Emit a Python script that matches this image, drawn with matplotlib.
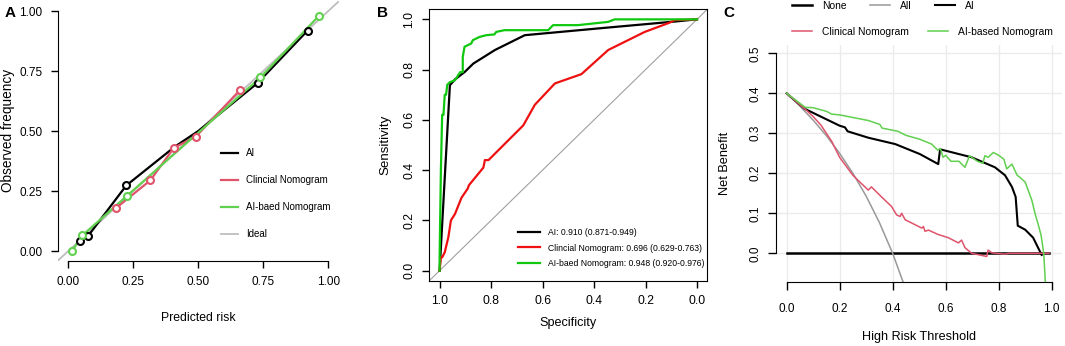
import numpy as np
import matplotlib
matplotlib.use('Agg')
import matplotlib.pyplot as plt

plt.rcParams['font.family'] = ['Liberation Sans', 'DejaVu Sans']

# ---- panel A: calibration curves
cal_ticks = [0.0, 0.25, 0.5, 0.75, 1.0]
ai_pt_x = [0.045, 0.077, 0.223, 0.728, 0.920]
ai_pt_y = [0.042, 0.064, 0.273, 0.700, 0.918]
ai_ln_x = [0.045, 0.077, 0.223, 0.41, 0.50, 0.728, 0.920]
ai_ln_y = [0.042, 0.064, 0.273, 0.435, 0.50, 0.700, 0.918]
cn_pt_x = [0.185, 0.316, 0.406, 0.490, 0.660]
cn_pt_y = [0.180, 0.295, 0.430, 0.476, 0.670]
ab_pt_x = [0.015, 0.054, 0.226, 0.739, 0.964]
ab_pt_y = [0.000, 0.065, 0.230, 0.723, 0.980]
cal_labels = ['AI', 'Clincial Nomogram', 'AI-baed Nomogram', 'Ideal']

# ---- panel B: ROC curves (specificity, sensitivity)
roc_ai_spec = [1.0, 0.96, 0.94, 0.902, 0.869, 0.785, 0.669, 0.35, 0.10, 0.0]
roc_ai_sens = [0.0, 0.738, 0.761, 0.791, 0.824, 0.878, 0.937, 0.967, 0.99, 1.0]
roc_cn_spec = [1.0, 0.995, 0.99, 0.98, 0.966, 0.956, 0.94, 0.915, 0.891, 0.886,
               0.83, 0.824, 0.81, 0.675, 0.63, 0.552, 0.449, 0.345, 0.203, 0.106,
               0.087, 0.0]
roc_cn_sens = [0.0, 0.053, 0.053, 0.073, 0.133, 0.20, 0.226, 0.29, 0.326, 0.34,
               0.41, 0.44, 0.44, 0.578, 0.66, 0.745, 0.782, 0.878, 0.95, 0.987,
               0.997, 1.0]
roc_ab_spec = [1.0, 1.0, 0.995, 0.99, 0.985, 0.98, 0.975, 0.97, 0.96, 0.94, 0.93,
               0.92, 0.91, 0.91, 0.903, 0.877, 0.871, 0.845, 0.819, 0.787, 0.78,
               0.748, 0.578, 0.559, 0.462, 0.345, 0.32, 0.0]
roc_ab_sens = [0.0, 0.05, 0.40, 0.62, 0.62, 0.70, 0.70, 0.74, 0.75, 0.758, 0.774,
               0.79, 0.79, 0.851, 0.891, 0.904, 0.917, 0.93, 0.937, 0.94, 0.95,
               0.957, 0.957, 0.977, 0.977, 0.99, 1.0, 1.0]
roc_labels = ['AI: 0.910 (0.871-0.949)',
              'Clincial Nomogram: 0.696 (0.629-0.763)',
              'AI-baed Nomogram: 0.948 (0.920-0.976)']

# ---- panel C: decision curves
none_t = [0.0, 0.99]
none_nb = [0.0, 0.0]
all_t = [0.0, 0.05, 0.10, 0.15, 0.20, 0.25, 0.30, 0.35, 0.40, 0.45]
all_nb = [0.40, 0.368, 0.333, 0.294, 0.25, 0.20, 0.143, 0.077, 0.0, -0.091]
dca_ai_t = [0.0, 0.069, 0.20, 0.22, 0.23, 0.308, 0.41, 0.503, 0.572, 0.579,
            0.698, 0.786, 0.824, 0.85, 0.864, 0.872, 0.90, 0.93, 0.962]
dca_ai_nb = [0.40, 0.361, 0.319, 0.315, 0.305, 0.289, 0.273, 0.248, 0.223, 0.26,
             0.24, 0.215, 0.195, 0.166, 0.141, 0.069, 0.059, 0.039, -0.004]
dca_cn_t = [0.0, 0.069, 0.10, 0.13, 0.17, 0.20, 0.25, 0.308, 0.32, 0.358, 0.396,
            0.415, 0.428, 0.434, 0.447, 0.51, 0.516, 0.522, 0.535, 0.572, 0.61,
            0.648, 0.66, 0.673, 0.698, 0.72, 0.748, 0.755, 0.76, 0.775, 0.824,
            0.84, 0.99]
dca_cn_nb = [0.40, 0.361, 0.342, 0.32, 0.28, 0.24, 0.195, 0.158, 0.166, 0.141,
             0.117, 0.096, 0.092, 0.10, 0.084, 0.063, 0.067, 0.055, 0.058, 0.047,
             0.039, 0.026, 0.033, 0.014, 0.0, -0.003, -0.007, -0.008, 0.008,
             0.001, -0.002, 0.0, 0.0]
dca_ab_t = [0.0, 0.05, 0.07, 0.10, 0.15, 0.17, 0.20, 0.308, 0.352, 0.36, 0.42,
            0.45, 0.503, 0.547, 0.57, 0.58, 0.59, 0.60, 0.62, 0.65, 0.673, 0.69,
            0.72, 0.74, 0.748, 0.76, 0.78, 0.80, 0.82, 0.83, 0.85, 0.87, 0.88,
            0.90, 0.91, 0.925, 0.937, 0.95, 0.96, 0.97, 0.98]
dca_ab_nb = [0.40, 0.375, 0.365, 0.364, 0.355, 0.348, 0.346, 0.332, 0.322, 0.313,
             0.305, 0.295, 0.285, 0.273, 0.258, 0.262, 0.24, 0.245, 0.23, 0.23,
             0.215, 0.244, 0.23, 0.225, 0.244, 0.24, 0.252, 0.245, 0.235, 0.211,
             0.223, 0.195, 0.19, 0.178, 0.16, 0.133, 0.10, 0.07, 0.045, 0.0, -0.12]
dca_labels_1 = ['None', 'All', 'AI']
dca_labels_2 = ['Clinical Nomogram', 'AI-based Nomogram']

W, H = 1065, 346


def box(l, t, r, b):
    return [l / W, 1 - b / H, (r - l) / W, (b - t) / H]


def fx(x):
    return x / W


def fy(y):
    return 1 - y / H


fig = plt.figure(figsize=(W / 100, H / 100), dpi=100)

# ================= A
ax = fig.add_axes(box(57.9, 1.4, 338.7, 260.6))
ax.set_xlim(-0.04, 1.04)
ax.set_ylim(-0.04, 1.04)
l_id = ax.axline((0, 0), (1, 1), color='#BEBEBE', lw=1.3)
l_ai, = ax.plot(ai_ln_x, ai_ln_y, color='black', lw=1.6)
l_cn, = ax.plot(cn_pt_x, cn_pt_y, color='#DF536B', lw=1.6)
l_ab, = ax.plot(ab_pt_x, ab_pt_y, color='#61D04F', lw=1.6)
for px, py, c in [(ai_pt_x, ai_pt_y, 'black'), (cn_pt_x, cn_pt_y, '#DF536B'),
                  (ab_pt_x, ab_pt_y, '#61D04F')]:
    ax.plot(px, py, 'o', ms=5, mew=1.5, mfc='white', mec=c, ls='none')
for s in ['top', 'right']:
    ax.spines[s].set_visible(False)
ax.spines['left'].set_bounds(0, 1)
ax.spines['bottom'].set_bounds(0, 1)
ax.set_xticks(cal_ticks)
ax.set_yticks(cal_ticks)
ax.set_xticklabels(['%.2f' % v for v in cal_ticks])
ax.set_yticklabels(['%.2f' % v for v in cal_ticks])
ax.tick_params(labelsize=8.5, length=5, width=1, pad=6)
ax.legend([l_ai, l_cn, l_ab, l_id], cal_labels, loc='upper left',
          bbox_to_anchor=(fx(221), fy(148)), bbox_transform=fig.transFigure,
          frameon=False, fontsize=7, handlelength=1.7, handletextpad=0.9,
          labelspacing=1.75, borderpad=0, borderaxespad=0)
fig.text(fx(8), fy(130), 'Observed frequency', rotation=90, ha='center', va='center', fontsize=9.8)
fig.text(fx(198), fy(318), 'Predicted risk', ha='center', va='center', fontsize=8.8)
fig.text(fx(10), fy(13), 'A', ha='center', va='center', fontsize=11, weight='bold')

# ================= B
bx = fig.add_axes(box(429.3, 9.3, 707.3, 280.7))
bx.set_xlim(1.04, -0.04)
bx.set_ylim(-0.04, 1.04)
bx.axline((1, 0), (0, 1), color='#A0A0A0', lw=0.8)
r1, = bx.plot(roc_ai_spec, roc_ai_sens, color='black', lw=1.6)
r2, = bx.plot(roc_cn_spec, roc_cn_sens, color='#EE1111', lw=1.6)
r3, = bx.plot(roc_ab_spec, roc_ab_sens, color='#11C811', lw=1.6)
ticks_b = [1.0, 0.8, 0.6, 0.4, 0.2, 0.0]
bx.set_xticks(ticks_b)
bx.set_xticklabels(['%.1f' % v for v in ticks_b])
bx.set_yticks(ticks_b)
bx.set_yticklabels(['%.1f' % v for v in ticks_b], rotation=90, va='center')
bx.tick_params(labelsize=8.7, length=5, width=1, pad=5)
bx.legend([r1, r2, r3], roc_labels, loc='upper left',
          bbox_to_anchor=(fx(518), fy(228)), bbox_transform=fig.transFigure,
          frameon=False, fontsize=6.25, handlelength=2.5, handletextpad=0.9,
          labelspacing=0.75, borderpad=0, borderaxespad=0)
fig.text(fx(385), fy(145), 'Sensitivity', rotation=90, ha='center', va='center', fontsize=9.6)
fig.text(fx(568), fy(323), 'Specificity', ha='center', va='center', fontsize=9.1)
fig.text(fx(382), fy(13), 'B', ha='center', va='center', fontsize=11, weight='bold')

# ================= C
cx = fig.add_axes(box(776, 44.5, 1062.3, 282.1))
cx.set_xlim(-0.04, 1.04)
cx.set_ylim(-0.072, 0.522)
xt = [0.0, 0.2, 0.4, 0.6, 0.8, 1.0]
yt = [0.0, 0.1, 0.2, 0.3, 0.4, 0.5]
for v in xt:
    cx.axvline(v, color='#EBEBEB', lw=1, zorder=0)
for v in yt:
    cx.axhline(v, color='#EBEBEB', lw=1, zorder=0)
d1, = cx.plot(none_t, none_nb, color='black', lw=1.8)
d2, = cx.plot(all_t, all_nb, color='#999999', lw=1.1)
d3, = cx.plot(dca_ai_t, dca_ai_nb, color='black', lw=1.5)
d4, = cx.plot(dca_cn_t, dca_cn_nb, color='#DF536B', lw=1.1)
d5, = cx.plot(dca_ab_t, dca_ab_nb, color='#61D04F', lw=1.1)
for s in ['top', 'right']:
    cx.spines[s].set_visible(False)
cx.spines['left'].set_bounds(0, 0.5)
cx.spines['bottom'].set_bounds(0, 1)
cx.set_xticks(xt)
cx.set_xticklabels(['%.1f' % v for v in xt])
cx.set_yticks(yt)
cx.set_yticklabels(['%.1f' % v for v in yt], rotation=90, va='center')
cx.tick_params(labelsize=8.5, length=5.5, width=1, pad=5)
cx.tick_params(axis='x', pad=9.5)
leg1 = cx.legend([d1, d2, d3], dca_labels_1, loc='upper left', ncol=3,
                 bbox_to_anchor=(fx(792), fy(0.7)), bbox_transform=fig.transFigure,
                 frameon=False, fontsize=7.4, handlelength=1.95, handletextpad=0.95,
                 columnspacing=2.3, borderpad=0, borderaxespad=0)
cx.add_artist(leg1)
cx.legend([d4, d5], dca_labels_2, loc='upper left', ncol=2,
          bbox_to_anchor=(fx(792), fy(26.7)), bbox_transform=fig.transFigure,
          frameon=False, fontsize=7.4, handlelength=1.95, handletextpad=0.95,
          columnspacing=1.9, borderpad=0, borderaxespad=0)
fig.text(fx(725), fy(163), 'Net Benefit', rotation=90, ha='center', va='center', fontsize=9.2)
fig.text(fx(919), fy(337), 'High Risk Threshold', ha='center', va='center', fontsize=9.1)
fig.text(fx(729), fy(13), 'C', ha='center', va='center', fontsize=11, weight='bold')

fig.savefig('out.png', dpi=100)
